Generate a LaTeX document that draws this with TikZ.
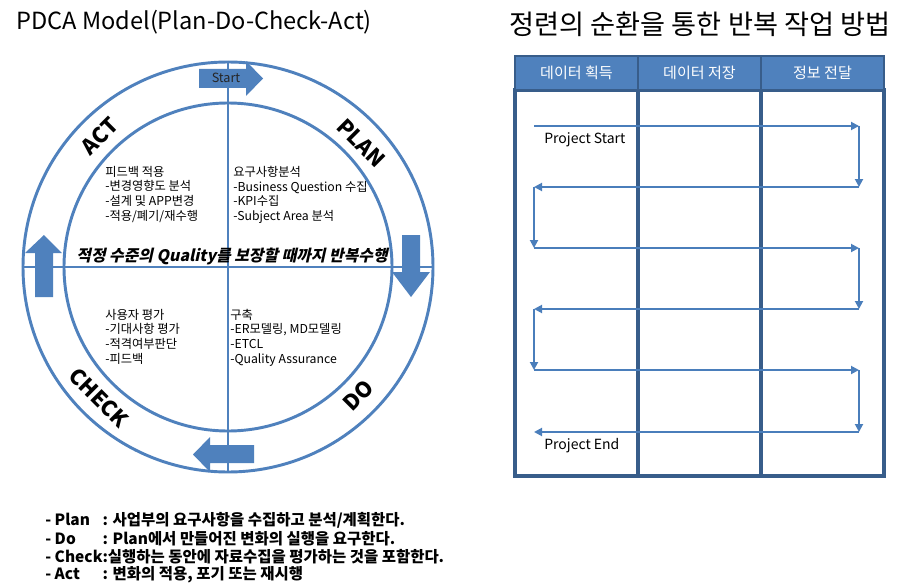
\documentclass[tikz,border=0pt]{standalone}
\usepackage{fontspec}
\setmainfont{Noto Sans CJK KR}
\newfontfamily\slantfont{Noto Sans CJK KR}[FakeSlant=0.22]
\usetikzlibrary{arrows.meta,positioning}
\definecolor{pdcablue}{HTML}{4F81BD}
\definecolor{pdcadark}{HTML}{385D8A}
\definecolor{flowblue}{HTML}{4A7EBB}
\newcommand{\notelabel}[1]{\makebox[0pt][l]{#1}\phantom{- Check}}

\begin{document}
\begin{tikzpicture}[
    x=0.75pt, y=-0.75pt,
    ring/.style={circle, draw=pdcablue, line width=2.2pt, inner sep=0pt},
    axis/.style={draw=pdcablue, line width=2pt},
    blockarrow/.style={fill=pdcablue},
    phase/.style={inner sep=0pt, font=\fontsize{16}{18}\selectfont\bfseries},
    stagetext/.style={anchor=north west, align=left, inner sep=0pt,
      font=\fontsize{9.2}{10.9}\selectfont},
    headcell/.style={draw=pdcadark, fill=pdcablue, line width=2pt,
      minimum width=92.25pt, minimum height=25.5pt, text=white,
      font=\fontsize{11.3}{12}\selectfont},
    lanecell/.style={draw=pdcadark, line width=2.4pt,
      minimum width=92.25pt, minimum height=289.5pt},
    flow/.style={draw=flowblue, line width=1.4pt,
      -{Triangle[length=6pt,width=6pt]}},
    note/.style={anchor=west, inner sep=0pt,
      font=\fontsize{11.6}{13}\selectfont\bfseries}
  ]
    \fill[white] (0,0) rectangle (909,588);
    \useasboundingbox (0,0) rectangle (909,588);

    % PDCA cycle
    \node[anchor=west, inner sep=0pt, font=\fontsize{17.7}{20}\selectfont] (pdcatitle) at (16,22) {PDCA Model(Plan-Do-Check-Act)};

    \fill[blockarrow] (199,69) -- (246,69) -- (246,61) -- (263,78.5) -- (246,96) -- (246,88) -- (199,88) -- cycle;
    \fill[blockarrow] (402,235) -- (420,235) -- (420,272) -- (430,272) -- (411,297) -- (392,272) -- (402,272) -- cycle;
    \fill[blockarrow] (254,445) -- (210,445) -- (210,437) -- (193,454.5) -- (210,472) -- (210,463) -- (254,463) -- cycle;
    \fill[blockarrow] (35,297) -- (53,297) -- (53,253) -- (62,253) -- (44,235) -- (25,253) -- (35,253) -- cycle;

    \node[ring, minimum size=307.5pt] (outer) at (228,267) {};
    \node[ring, minimum size=246pt] (inner) at (228,267) {};
    \draw[axis] (outer.north) -- (outer.south);
    \draw[axis] (outer.west) -- (outer.east);

    \node[inner sep=0pt, font=\fontsize{9.5}{10}\selectfont, text=black!85] (start) at (226,78) {Start};

    \node[phase, rotate=45] (act) at (100,136) {ACT};
    \node[phase, rotate=-45] (plan) at (361,143) {PLAN};
    \node[phase, rotate=45] (do) at (358,395) {DO};
    \node[phase, rotate=-45] (check) at (99,398) {CHECK};

    \node[stagetext] (actitems) at (105,166) {피드백 적용\\-변경영향도 분석\\-설계 및 APP변경\\-적용/폐기/재수행};
    \node[stagetext] (planitems) at (233,166) {요구사항분석\\-Business Question  수집\\-KPI수집\\-Subject Area 분석};
    \node[stagetext] (checkitems) at (105,309) {사용자 평가\\-기대사항 평가\\-적격여부판단\\-피드백};
    \node[stagetext] (doitems) at (230,309) {구축\\-ER모델링, MD모델링\\-ETCL\\-Quality Assurance};

    \node[inner sep=0pt, font=\fontsize{11.9}{13}\selectfont\slantfont\bfseries] (quality) at (232,256) {적정 수준의 Quality를 보장할 때까지 반복수행};

    \node[note] (noteplan) at (45,520) {\notelabel{- Plan}: 사업부의 요구사항을 수집하고 분석/계획한다.};
    \node[note] (notedo) at (45,538.5) {\notelabel{- Do}: Plan에서 만들어진 변화의 실행을 요구한다.};
    \node[note] (notecheck) at (45,556.5) {\notelabel{- Check}:실행하는 동안에 자료수집을 평가하는 것을 포함한다.};
    \node[note] (noteact) at (45,574.5) {\notelabel{- Act}: 변화의 적용, 포기 또는 재시행};

    % iterative refinement table
    \node[inner sep=0pt, font=\fontsize{20.4}{22}\selectfont] (looptitle) at (700,24) {정련의 순환을 통한 반복 작업 방법};

    \node[lanecell] (cget) at (576.5,283) {};
    \node[lanecell] (cstore) at (699.5,283) {};
    \node[lanecell] (cdeliver) at (822.5,283) {};
    \node[headcell] (hget) at (576.5,73) {데이터 획득};
    \node[headcell] (hstore) at (699.5,73) {데이터 저장};
    \node[headcell] (hdeliver) at (822.5,73) {정보 전달};

    \coordinate (r1l) at (534,126);
    \coordinate (r1r) at (859,126);
    \coordinate (r2r) at (859,187);
    \coordinate (r2l) at (534,187);
    \coordinate (r3l) at (534,248);
    \coordinate (r3r) at (859,248);
    \coordinate (r4r) at (859,309);
    \coordinate (r4l) at (534,309);
    \coordinate (r5l) at (534,370);
    \coordinate (r5r) at (859,370);
    \coordinate (r6r) at (859,432);
    \coordinate (r6l) at (534,432);

    \draw[flow] (r1l) -- (r1r);
    \draw[flow] (r1r) -- (r2r);
    \draw[flow] (r2r) -- (r2l);
    \draw[flow] (r2l) -- (r3l);
    \draw[flow] (r3l) -- (r3r);
    \draw[flow] (r3r) -- (r4r);
    \draw[flow] (r4r) -- (r4l);
    \draw[flow] (r4l) -- (r5l);
    \draw[flow] (r5l) -- (r5r);
    \draw[flow] (r5r) -- (r6r);
    \draw[flow] (r6r) -- (r6l);

    \node[anchor=west, inner sep=0pt, font=\fontsize{10.5}{12}\selectfont] (projstart) at (544,140) {Project Start};
    \node[anchor=west, inner sep=0pt, font=\fontsize{10.5}{12}\selectfont] (projend) at (544,446) {Project End};
  \end{tikzpicture}
\end{document}
